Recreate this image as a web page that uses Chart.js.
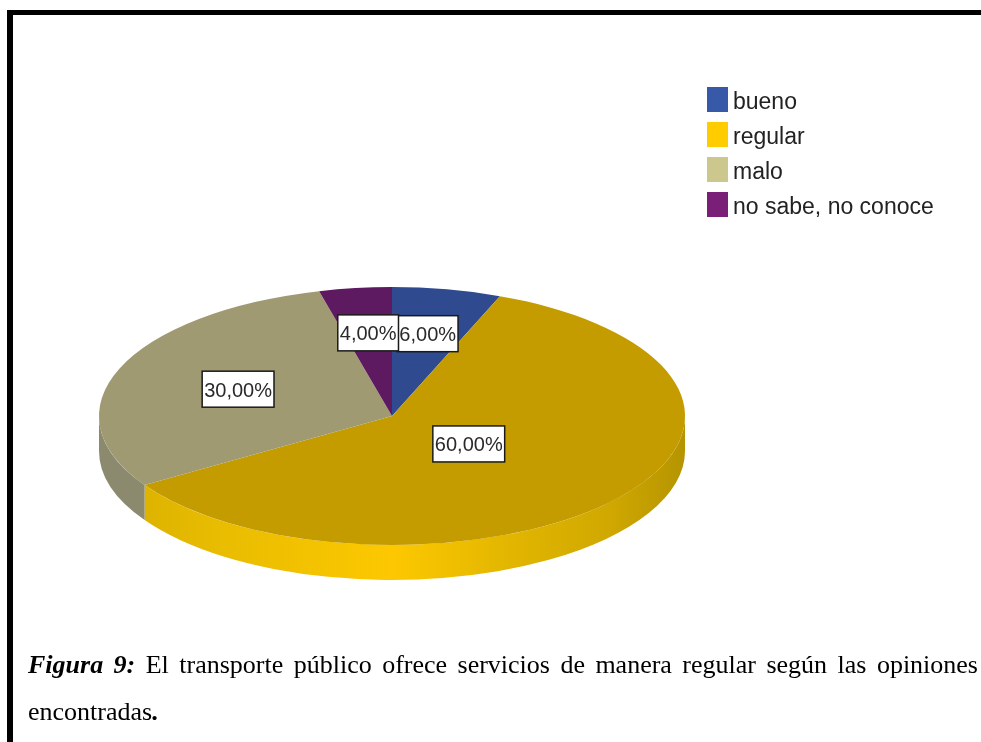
<!DOCTYPE html>
<html>
<head>
<meta charset="utf-8">
<title>Figura 9</title>
<script src="https://cdn.jsdelivr.net/npm/chart.js@4/dist/chart.umd.min.js"></script>
<style>
  body { margin: 0; background: #fff; }
  #page { position: relative; width: 981px; height: 742px; overflow: hidden; }
  #frameTop { position: absolute; left: 7px; top: 10px; right: 0; height: 5px; background: #000; }
  #frameLeft { position: absolute; left: 7px; top: 10px; bottom: 0; width: 6px; background: #000; }
  canvas { position: absolute; left: 0; top: 0; }
  #legend { position: absolute; left: 707px; top: 87px; font: 23px "Liberation Sans", sans-serif; color: #222; }
  #legend div { position: relative; height: 35px; line-height: 29px; padding-left: 26px; white-space: nowrap; }
  #legend i { position: absolute; left: 0; top: 0; width: 21px; height: 25px; }
  .caption { position: absolute; left: 28px; width: 950px; font: 26px "Liberation Serif", serif; color: #000; }
  #line1 { top: 650px; text-align: justify; text-align-last: justify; }
  #line2 { top: 697px; }
</style>
</head>
<body>
<div id="page">
  <div id="frameTop"></div>
  <div id="frameLeft"></div>
  <canvas id="pieChart" width="981" height="742"></canvas>
  <div id="legend"></div>
  <div class="caption" id="line1"><b><i>Figura 9:</i></b> El transporte público ofrece servicios de manera regular según las opiniones</div>
  <div class="caption" id="line2">encontradas<b><i>.</i></b></div>
</div>
<script>
const categories = ['bueno', 'regular', 'malo', 'no sabe, no conoce'];
const values = [6, 60, 30, 4];
const sliceColors = ['#2f4a8f', '#c49c00', '#a09a72', '#5e1a60'];
const legendColors = ['#3858a8', '#ffcc00', '#ccc78c', '#7a1f78'];
const sideColors = ['#24396e', '#f0c000', '#8c8a6e', '#4a1450'];
const labelRadius = [0.65, 0.34, 0.565, 0.65];

// the pie is drawn flat, then squashed to look tilted
const squash = 0.44;
const depth = 35;

function pctText(v) {
  return v.toFixed(2).replace('.', ',') + '%';
}

const tiltPlugin = {
  id: 'tilt',
  beforeDatasetsDraw(chart) {
    const ctx = chart.ctx;
    const arcs = chart.getDatasetMeta(0).data;
    const cx = arcs[0].x, cy = arcs[0].y, r = arcs[0].outerRadius;

    // side wall, only the front half can be seen
    arcs.forEach((arc, i) => {
      const a0 = Math.max(arc.startAngle, 0);
      const a1 = Math.min(arc.endAngle, Math.PI);
      if (a1 <= a0) return;
      let fill = sideColors[i];
      if (i === 1) {
        fill = ctx.createLinearGradient(cx - r, 0, cx + r, 0);
        fill.addColorStop(0, '#d8ae00');
        fill.addColorStop(0.2, '#e8bc00');
        fill.addColorStop(0.5, '#fdc800');
        fill.addColorStop(0.7, '#e2b600');
        fill.addColorStop(0.87, '#d0a800');
        fill.addColorStop(1, '#b59400');
      }
      ctx.beginPath();
      ctx.ellipse(cx, cy, r, r * squash, 0, a0, a1);
      ctx.ellipse(cx, cy + depth, r, r * squash, 0, a1, a0, true);
      ctx.closePath();
      ctx.fillStyle = fill;
      ctx.fill();
    });

    ctx.save();
    ctx.translate(cx, cy);
    ctx.scale(1, squash);
    ctx.translate(-cx, -cy);
  },
  afterDatasetsDraw(chart) {
    const ctx = chart.ctx;
    ctx.restore();

    const arcs = chart.getDatasetMeta(0).data;
    ctx.font = '20px "Liberation Sans", sans-serif';
    ctx.textAlign = 'center';
    ctx.textBaseline = 'middle';
    arcs.forEach((arc, i) => {
      const mid = (arc.startAngle + arc.endAngle) / 2;
      const x = arc.x + Math.cos(mid) * arc.outerRadius * labelRadius[i];
      const y = arc.y + Math.sin(mid) * arc.outerRadius * labelRadius[i] * squash;
      const text = pctText(values[i]);
      const w = ctx.measureText(text).width + 4;
      const h = 36;
      ctx.fillStyle = '#fff';
      ctx.fillRect(x - w / 2, y - h / 2, w, h);
      ctx.strokeStyle = '#1a1a1a';
      ctx.lineWidth = 1.5;
      ctx.strokeRect(x - w / 2, y - h / 2, w, h);
      ctx.fillStyle = '#2a2a2a';
      ctx.fillText(text, x, y + 2);
    });
  }
};

new Chart(document.getElementById('pieChart'), {
  type: 'pie',
  data: {
    labels: categories,
    datasets: [{
      data: values,
      backgroundColor: sliceColors,
      borderWidth: 0,
      clip: false
    }]
  },
  options: {
    responsive: false,
    animation: false,
    layout: { padding: { left: 99, right: 296, top: 123, bottom: 33 } },
    plugins: {
      legend: { display: false },
      tooltip: { enabled: false }
    }
  },
  plugins: [tiltPlugin]
});

const legend = document.getElementById('legend');
categories.forEach((name, i) => {
  const row = document.createElement('div');
  const box = document.createElement('i');
  box.style.background = legendColors[i];
  row.appendChild(box);
  row.appendChild(document.createTextNode(name));
  legend.appendChild(row);
});
</script>
</body>
</html>
